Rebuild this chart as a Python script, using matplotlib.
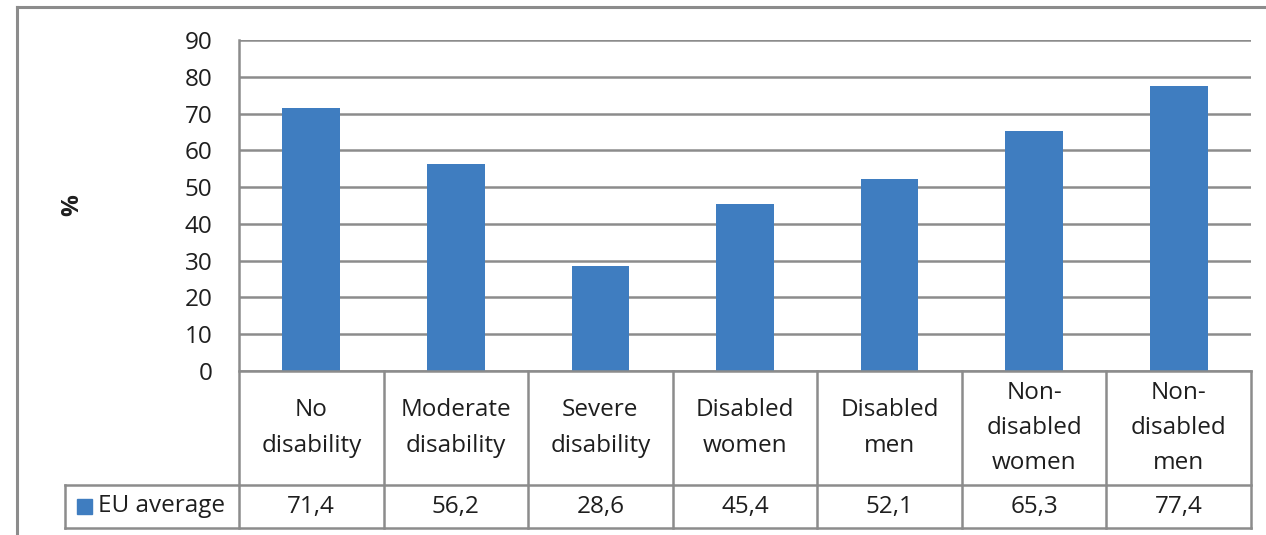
import matplotlib.pyplot as plt
from matplotlib.lines import Line2D
from matplotlib.patches import Rectangle
from matplotlib.transforms import blended_transform_factory

categories = [
    "No\ndisability",
    "Moderate\ndisability",
    "Severe\ndisability",
    "Disabled\nwomen",
    "Disabled\nmen",
    "Non-\ndisabled\nwomen",
    "Non-\ndisabled\nmen",
]
eu_average = [71.4, 56.2, 28.6, 45.4, 52.1, 65.3, 77.4]
series_name = "EU average"
y_ticks = [0, 10, 20, 30, 40, 50, 60, 70, 80, 90]

W, H = 1266, 535
BLUE = "#3F7DC0"
GRID = "#8C8C8C"
TEXT = "#1E1E1E"
FS = 17.5

plt.rcParams["font.family"] = ["Open Sans", "DejaVu Sans"]

fig = plt.figure(figsize=(W / 100, H / 100), dpi=100)

# plot area in pixel coordinates
left, right, top, bottom = 239, 1251, 40, 371
ax = fig.add_axes([left / W, 1 - bottom / H, (right - left) / W, (bottom - top) / H])
x = list(range(len(categories)))
ax.bar(x, eu_average, width=0.4, color=BLUE, zorder=3)
ax.set_xlim(-0.5, len(categories) - 0.5)
ax.set_ylim(0, 90)
ax.set_yticks(y_ticks)
ax.set_yticklabels([str(t) for t in y_ticks], fontsize=FS, color=TEXT)
ax.tick_params(axis="y", length=0, pad=19)
ax.set_xticks([])
ax.grid(axis="y", color=GRID, linewidth=1.8, zorder=0)
for side in ("top", "right", "bottom", "left"):
    ax.spines[side].set_visible(False)

# y label
fig.text(72 / W, 1 - 205 / H, "%", rotation=90, fontsize=FS, fontweight="bold",
         color=TEXT, ha="center", va="center")


def px(xp, yp):
    return xp / W, 1 - yp / H


def hline(x0, x1, y, lw=1.8):
    (a, b), (c, d) = px(x0, y), px(x1, y)
    fig.add_artist(Line2D([a, c], [b, d], color=GRID, linewidth=lw))


def vline(xp, y0, y1, lw=1.8):
    (a, b), (c, d) = px(xp, y0), px(xp, y1)
    fig.add_artist(Line2D([a, c], [b, d], color=GRID, linewidth=lw))


# outer chart border (top and left)
hline(17, W, 7, lw=2.2)
vline(17, 7, H, lw=2.2)

# data table below the axis
row1, row2, row3 = 371, 485, 528
col_w = (right - left) / len(categories)
hline(left, right, row1)
hline(65, right, row2)
hline(65, right, row3)
vline(left, top, row3)
vline(65, row2, row3)
for i in range(1, len(categories) + 1):
    vline(left + i * col_w, row1, row3)

trans = blended_transform_factory(ax.transData, fig.transFigure)
for xi, cat, val in zip(x, categories, eu_average):
    fig.text(xi, 1 - (row1 + row2) / 2 / H, cat, transform=trans, ha="center",
             va="center", fontsize=FS, color=TEXT, linespacing=1.62)
    fig.text(xi, 1 - (row2 + row3) / 2 / H, f"{val:.1f}".replace(".", ","),
             transform=trans, ha="center", va="center", fontsize=FS, color=TEXT)

# legend key in the table header cell
fig.add_artist(Rectangle(px(77, 514), 15 / W, 15 / H, color=BLUE,
                         transform=fig.transFigure))
fig.text(98 / W, 1 - (row2 + row3) / 2 / H, series_name, ha="left", va="center",
         fontsize=FS, color=TEXT)

fig.savefig("out.png", dpi=100)
